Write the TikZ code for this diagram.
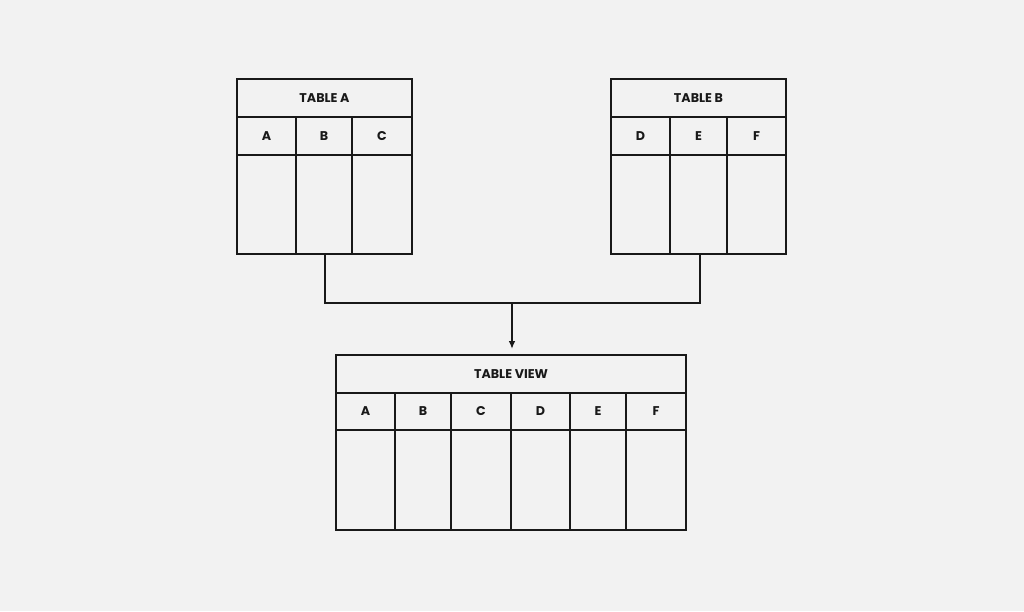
\documentclass[tikz,border=0pt]{standalone}
\usepackage{fontspec}
\setmainfont{Poppins}
\usetikzlibrary{arrows.meta}
\begin{document}
\begin{tikzpicture}[x=0.75pt,y=-0.75pt,
  ln/.style={line width=1.5pt,draw=black!90},
  lbl/.style={font=\fontsize{9.5}{11}\selectfont\bfseries,text=black!90}]
\fill[black!5] (0,0) rectangle (1024,611);
\useasboundingbox (0,0) rectangle (1024,611);
% Table A
\node[ln,minimum width=131.25pt,minimum height=131.25pt,inner sep=0] (ta) at (324.5,166.5) {};
\draw[ln] (237,117) -- (412,117) (237,155) -- (412,155) (296,117) -- (296,254) (352,117) -- (352,254);
\node[lbl] (tat) at (324.5,98) {TABLE A};
\node[lbl] (ca) at (266.5,136) {A};
\node[lbl] (cb) at (324,136) {B};
\node[lbl] (cc) at (382,136) {C};
% Table B
\node[ln,minimum width=131.25pt,minimum height=131.25pt,inner sep=0] (tb) at (698.5,166.5) {};
\draw[ln] (611,117) -- (786,117) (611,155) -- (786,155) (670,117) -- (670,254) (727,117) -- (727,254);
\node[lbl] (tbt) at (698.5,98) {TABLE B};
\node[lbl] (cd) at (640.5,136) {D};
\node[lbl] (ce) at (698.5,136) {E};
\node[lbl] (cf) at (756.5,136) {F};
% Table view
\node[ln,minimum width=262.5pt,minimum height=131.25pt,inner sep=0] (tv) at (511,442.5) {};
\draw[ln] (336,393) -- (686,393) (336,430) -- (686,430);
\foreach \x in {395,451,511,570,626} \draw[ln] (\x,393) -- (\x,530);
\node[lbl] (tvt) at (511,374) {TABLE VIEW};
\foreach \c/\x in {A/365.5,B/423,C/481,D/540.5,E/598,F/656} \node[lbl] at (\x,411.5) {\c};
% connectors
\coordinate (j) at (512,303);
\draw[ln] (ta.south -| 325,0) |- (j) -| (tb.south -| 700,0);
\draw[ln,-{Latex[length=6pt,width=5pt]}] (j) -- (512,349);
\end{tikzpicture}
\end{document}
